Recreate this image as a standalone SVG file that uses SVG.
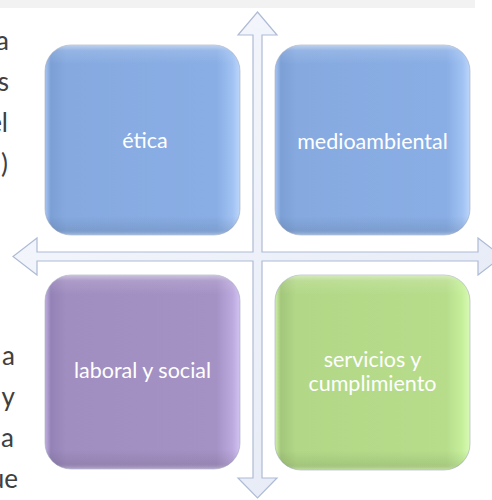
<svg xmlns="http://www.w3.org/2000/svg" width="492" height="500" viewBox="0 0 492 500">
  <defs>
    <linearGradient id="gBlue" x1="0" y1="0" x2="1" y2="0">
      <stop offset="0" stop-color="#a9c7f3"/>
      <stop offset="0.03" stop-color="#7c9fd5"/>
      <stop offset="0.11" stop-color="#86aae0"/>
      <stop offset="0.88" stop-color="#89aee5"/>
      <stop offset="0.96" stop-color="#a0c1f2"/>
      <stop offset="1" stop-color="#bcd6fb"/>
    </linearGradient>
    <linearGradient id="gPurple" x1="0" y1="0" x2="1" y2="0">
      <stop offset="0" stop-color="#c2b0e2"/>
      <stop offset="0.03" stop-color="#9482b6"/>
      <stop offset="0.11" stop-color="#a18ec1"/>
      <stop offset="0.88" stop-color="#a592c5"/>
      <stop offset="0.96" stop-color="#bba8dd"/>
      <stop offset="1" stop-color="#d2c2f2"/>
    </linearGradient>
    <linearGradient id="gGreen" x1="0" y1="0" x2="1" y2="0">
      <stop offset="0" stop-color="#d0f2aa"/>
      <stop offset="0.03" stop-color="#a3c67b"/>
      <stop offset="0.11" stop-color="#b2d887"/>
      <stop offset="0.88" stop-color="#b7dd8b"/>
      <stop offset="0.96" stop-color="#c6ef9b"/>
      <stop offset="1" stop-color="#d8fbb4"/>
    </linearGradient>
    <linearGradient id="gShade" x1="0" y1="0" x2="0" y2="1">
      <stop offset="0" stop-color="#ffffff" stop-opacity="0.45"/>
      <stop offset="0.03" stop-color="#ffffff" stop-opacity="0.12"/>
      <stop offset="0.1" stop-color="#ffffff" stop-opacity="0"/>
      <stop offset="0.9" stop-color="#000000" stop-opacity="0"/>
      <stop offset="0.97" stop-color="#000000" stop-opacity="0.08"/>
      <stop offset="1" stop-color="#ffffff" stop-opacity="0.25"/>
    </linearGradient>
    <linearGradient id="gArrow" x1="0" y1="0" x2="1" y2="1">
      <stop offset="0" stop-color="#f7f9fd"/>
      <stop offset="1" stop-color="#e3e8f4"/>
    </linearGradient>
  </defs>
  <style>
    .frag { font-family: Lato, "Liberation Sans", sans-serif; font-size: 26px; fill: #404040; text-anchor: end; }
    .lbl { font-family: Lato, "Liberation Sans", sans-serif; font-size: 21.5px; fill: #ffffff; text-anchor: middle; }
    .box { stroke: #9aa6b8; stroke-width: 0.8; stroke-opacity: 0.7; }
    .shade { fill: url(#gShade); }
    .arrow { fill: url(#gArrow); stroke: #aebbd6; stroke-width: 1.2; stroke-linejoin: miter; }
  </style>

  <rect x="0" y="0" width="475" height="8" fill="#f2f2f2"/>

  <g id="text-fragments">
    <text class="frag" x="9" y="50">a</text>
    <text class="frag" x="9" y="91">s</text>
    <text class="frag" x="8" y="132">el</text>
    <text class="frag" x="8" y="173">)</text>
    <text class="frag" x="15" y="365">a</text>
    <text class="frag" x="15" y="406">y</text>
    <text class="frag" x="14" y="447">a</text>
    <text class="frag" x="18" y="488">ue</text>
  </g>

  <g id="connectors">
    <path class="arrow" d="M257.5,12 L277,35 L262,35 L262,252 L478,252 L478,238 L502,256.5 L478,275 L478,261 L262,261 L262,478 L277,478 L257.5,498 L238,478 L253,478 L253,261 L37,261 L37,275 L13,256.5 L37,238 L37,252 L253,252 L253,35 L238,35 Z"/>
  </g>

  <g id="node-etica">
    <rect class="box" x="45" y="45" width="195" height="190" rx="26" fill="url(#gBlue)"/>
    <rect class="shade" x="45" y="45" width="195" height="190" rx="26"/>
    <text class="lbl" x="145" y="148">ética</text>
  </g>

  <g id="node-medioambiental">
    <rect class="box" x="275" y="45" width="195" height="190" rx="26" fill="url(#gBlue)"/>
    <rect class="shade" x="275" y="45" width="195" height="190" rx="26"/>
    <text class="lbl" x="372.5" y="149">medioambiental</text>
  </g>

  <g id="node-laboral">
    <rect class="box" x="45" y="275" width="195" height="194" rx="26" fill="url(#gPurple)"/>
    <rect class="shade" x="45" y="275" width="195" height="194" rx="26"/>
    <text class="lbl" x="142.5" y="378">laboral y social</text>
  </g>

  <g id="node-servicios">
    <rect class="box" x="275" y="275" width="195" height="195" rx="26" fill="url(#gGreen)"/>
    <rect class="shade" x="275" y="275" width="195" height="195" rx="26"/>
    <text class="lbl" x="372.5" y="366.5">servicios y</text>
    <text class="lbl" x="372.5" y="391">cumplimiento</text>
  </g>
</svg>
